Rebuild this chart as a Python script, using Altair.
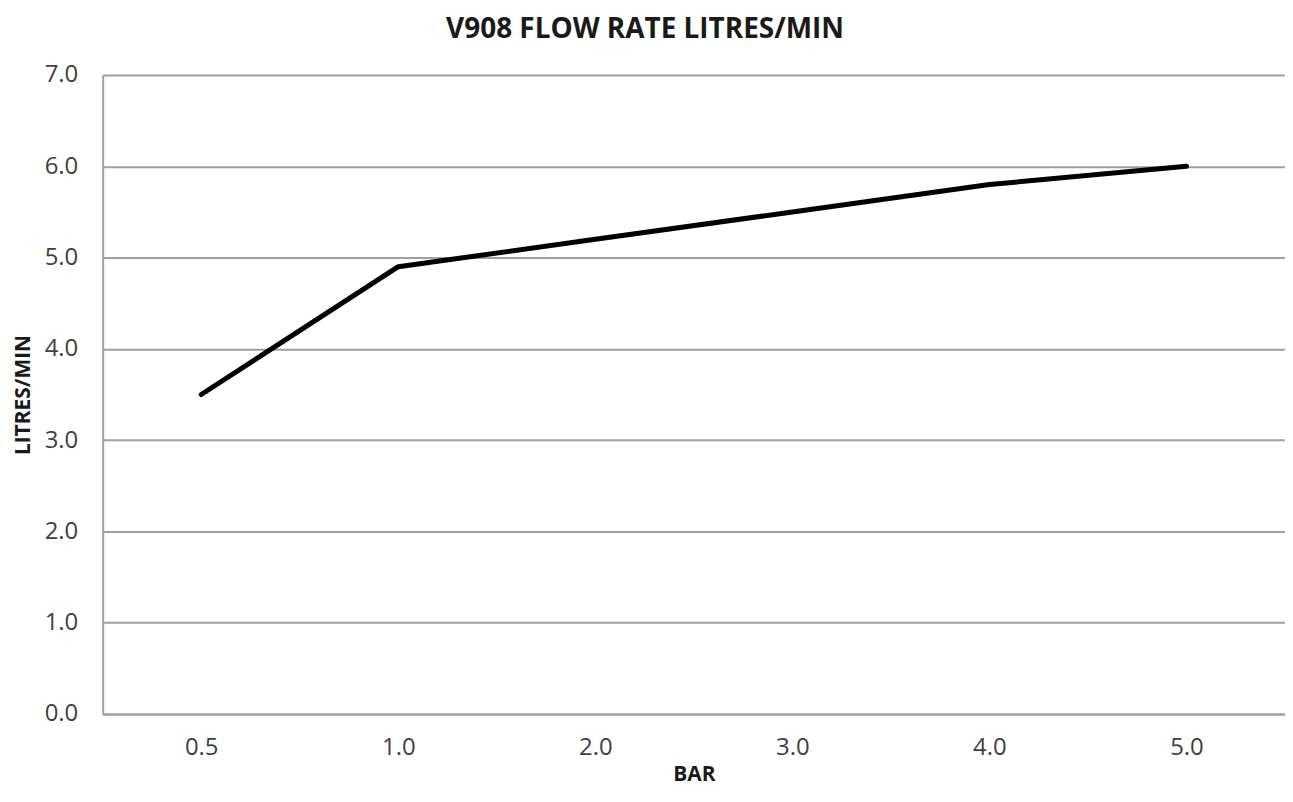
import altair as alt
import pandas as pd

bar = ["0.5", "1.0", "2.0", "3.0", "4.0", "5.0"]
flow = [3.5, 4.9, 5.2, 5.5, 5.8, 6.0]
y_ticks = [0, 1, 2, 3, 4, 5, 6, 7]

df = pd.DataFrame({"bar": bar, "flow": flow})

FONT = "Open Sans"
GRID = "#a0a0a0"
LABEL = "#404040"

chart = alt.Chart(df).mark_line(color="black", strokeWidth=5, strokeCap="round", strokeJoin="round").encode(
    x=alt.X("bar:O", sort=bar, title="BAR",
            scale=alt.Scale(type="point", padding=0.5),
            axis=alt.Axis(labelAngle=0, ticks=False, domainColor=GRID, domainWidth=2,
                          labelFontSize=24, labelColor=LABEL, labelPadding=22,
                          titleFontSize=21, titleFontWeight="bold", titlePadding=4,
                          titleColor="#1a1a1a", grid=False)),
    y=alt.Y("flow:Q", title="LITRES/MIN",
            scale=alt.Scale(domain=[0, 7], nice=False),
            axis=alt.Axis(values=y_ticks, format=".1f", ticks=False, domainColor=GRID, domainWidth=2,
                          gridColor=GRID, gridWidth=2, labelFontSize=24, labelColor=LABEL,
                          labelPadding=25, titleFontSize=21, titleFontWeight="bold",
                          titlePadding=11, titleColor="#1a1a1a")),
).properties(
    width=1186,
    height=641,
    title=alt.TitleParams("V908 FLOW RATE LITRES/MIN", fontSize=28, font=FONT, fontWeight="bold",
                          color="#1a1a1a", anchor="middle", frame="group", dx=-49, offset=19),
    autosize=alt.AutoSizeParams(type="none"),
    padding={"left": 95, "top": 66, "right": 0, "bottom": 75},
).configure(font=FONT).configure_view(stroke=None).configure_axis(labelFont=FONT, titleFont=FONT)

chart.save("out.html", embed_options={"renderer": "svg", "actions": False})
